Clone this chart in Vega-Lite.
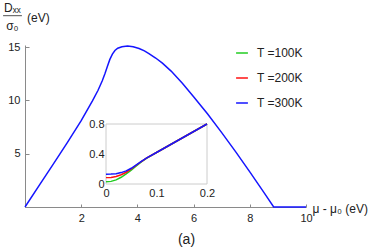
{
  "$schema": "https://vega.github.io/schema/vega-lite/v6.json",
  "width": 281,
  "height": 162,
  "autosize": "none",
  "padding": {"left": 25, "top": 45, "right": 68, "bottom": 45},
  "background": "white",
  "config": {"view": {"stroke": null}, "font": "Liberation Sans"},
  "title": {"text": "(a)", "orient": "bottom", "fontSize": 14, "fontWeight": "normal", "color": "#222", "dx": 21, "offset": 10},
  "datasets": {
    "main": [
      {"mu": 0, "D": 0, "T": "T =300K"},
      {"mu": 0.5, "D": 2.0, "T": "T =300K"},
      {"mu": 1.0, "D": 4.0, "T": "T =300K"},
      {"mu": 1.5, "D": 6.02, "T": "T =300K"},
      {"mu": 2.0, "D": 8.1, "T": "T =300K"},
      {"mu": 2.4, "D": 9.95, "T": "T =300K"},
      {"mu": 2.6, "D": 10.95, "T": "T =300K"},
      {"mu": 2.75, "D": 11.85, "T": "T =300K"},
      {"mu": 2.85, "D": 12.55, "T": "T =300K"},
      {"mu": 2.94, "D": 13.25, "T": "T =300K"},
      {"mu": 3.02, "D": 13.85, "T": "T =300K"},
      {"mu": 3.11, "D": 14.35, "T": "T =300K"},
      {"mu": 3.2, "D": 14.68, "T": "T =300K"},
      {"mu": 3.3, "D": 14.9, "T": "T =300K"},
      {"mu": 3.45, "D": 15.04, "T": "T =300K"},
      {"mu": 3.65, "D": 15.1, "T": "T =300K"},
      {"mu": 3.85, "D": 15.03, "T": "T =300K"},
      {"mu": 4.06, "D": 14.87, "T": "T =300K"},
      {"mu": 4.25, "D": 14.65, "T": "T =300K"},
      {"mu": 4.41, "D": 14.4, "T": "T =300K"},
      {"mu": 4.65, "D": 13.98, "T": "T =300K"},
      {"mu": 4.89, "D": 13.5, "T": "T =300K"},
      {"mu": 5.2, "D": 12.75, "T": "T =300K"},
      {"mu": 5.6, "D": 11.6, "T": "T =300K"},
      {"mu": 6.0, "D": 10.35, "T": "T =300K"},
      {"mu": 6.5, "D": 8.72, "T": "T =300K"},
      {"mu": 7.0, "D": 6.98, "T": "T =300K"},
      {"mu": 7.5, "D": 5.17, "T": "T =300K"},
      {"mu": 8.0, "D": 3.29, "T": "T =300K"},
      {"mu": 8.5, "D": 1.37, "T": "T =300K"},
      {"mu": 8.85, "D": 0, "T": "T =300K"},
      {"mu": 10, "D": 0, "T": "T =300K"}
    ],
    "inset": [
      {"mu": 0, "D": 0.03, "T": "T =100K"},
      {"mu": 0.01, "D": 0.035, "T": "T =100K"},
      {"mu": 0.02, "D": 0.055, "T": "T =100K"},
      {"mu": 0.03, "D": 0.09, "T": "T =100K"},
      {"mu": 0.04, "D": 0.135, "T": "T =100K"},
      {"mu": 0.05, "D": 0.185, "T": "T =100K"},
      {"mu": 0.06, "D": 0.24, "T": "T =100K"},
      {"mu": 0.07, "D": 0.295, "T": "T =100K"},
      {"mu": 0.08, "D": 0.342, "T": "T =100K"},
      {"mu": 0.1, "D": 0.42, "T": "T =100K"},
      {"mu": 0.15, "D": 0.61, "T": "T =100K"},
      {"mu": 0.2, "D": 0.8, "T": "T =100K"},
      {"mu": 0, "D": 0.085, "T": "T =200K"},
      {"mu": 0.01, "D": 0.088, "T": "T =200K"},
      {"mu": 0.02, "D": 0.1, "T": "T =200K"},
      {"mu": 0.03, "D": 0.123, "T": "T =200K"},
      {"mu": 0.04, "D": 0.157, "T": "T =200K"},
      {"mu": 0.05, "D": 0.2, "T": "T =200K"},
      {"mu": 0.06, "D": 0.25, "T": "T =200K"},
      {"mu": 0.07, "D": 0.3, "T": "T =200K"},
      {"mu": 0.08, "D": 0.344, "T": "T =200K"},
      {"mu": 0.1, "D": 0.42, "T": "T =200K"},
      {"mu": 0.15, "D": 0.61, "T": "T =200K"},
      {"mu": 0.2, "D": 0.8, "T": "T =200K"},
      {"mu": 0, "D": 0.13, "T": "T =300K"},
      {"mu": 0.01, "D": 0.132, "T": "T =300K"},
      {"mu": 0.02, "D": 0.138, "T": "T =300K"},
      {"mu": 0.03, "D": 0.152, "T": "T =300K"},
      {"mu": 0.04, "D": 0.175, "T": "T =300K"},
      {"mu": 0.05, "D": 0.21, "T": "T =300K"},
      {"mu": 0.06, "D": 0.255, "T": "T =300K"},
      {"mu": 0.07, "D": 0.302, "T": "T =300K"},
      {"mu": 0.08, "D": 0.344, "T": "T =300K"},
      {"mu": 0.1, "D": 0.42, "T": "T =300K"},
      {"mu": 0.15, "D": 0.61, "T": "T =300K"},
      {"mu": 0.2, "D": 0.8, "T": "T =300K"}
    ]
  },
  "layer": [
    {
      "layer": [
        {
          "data": {"name": "main"},
          "mark": {"type": "line", "strokeWidth": 1.5},
          "encoding": {
            "x": {
              "field": "mu", "type": "quantitative",
              "scale": {"domain": [0, 10], "nice": false, "zero": false},
              "axis": {
                "orient": "bottom",
                "values": [0, 0.5, 1, 1.5, 2, 2.5, 3, 3.5, 4, 4.5, 5, 5.5, 6, 6.5, 7, 7.5, 8, 8.5, 9, 9.5, 10],
                "labelExpr": "datum.value % 2 === 0 && datum.value > 0 ? datum.label : ''",
                "tickSize": -3,
                "labelPadding": 8,
                "labelFlush": false,
                "labelOverlap": false,
                "labelFontSize": 11,
                "labelColor": "#222",
                "grid": false,
                "domain": true,
                "domainWidth": 1,
                "domainColor": "#8a8a8a",
                "tickColor": "#8a8a8a",
                "title": "μ - μ₀ (eV)",
                "titleX": 287,
                "titleY": 1,
                "titleAlign": "left",
                "titleBaseline": "middle",
                "titleFontWeight": "normal",
                "titleFontSize": 12,
                "titleColor": "#222"
              }
            },
            "y": {
              "field": "D", "type": "quantitative",
              "scale": {"domain": [0, 15.2], "nice": false, "zero": false},
              "axis": {
                "orient": "left",
                "values": [5, 10, 15],
                "tickSize": -4,
                "labelPadding": 9,
                "labelAlign": "right",
                "labelBaseline": "middle",
                "labelFlush": false,
                "labelOverlap": false,
                "labelFontSize": 11,
                "labelColor": "#222",
                "grid": false,
                "domain": true,
                "domainWidth": 1,
                "domainColor": "#8a8a8a",
                "tickColor": "#8a8a8a",
                "title": ""
              }
            },
            "color": {
              "field": "T", "type": "nominal",
              "scale": {"domain": ["T =100K", "T =200K", "T =300K"], "range": ["#22cc22", "#ff1111", "#1515ff"]},
              "legend": {
                "orient": "none", "legendX": 210, "legendY": 1, "title": null,
                "symbolType": "stroke", "symbolSize": 140, "symbolStrokeWidth": 1.5,
                "labelFontSize": 12, "labelColor": "#222", "labelOffset": 8,
                "rowPadding": 12, "padding": 0
              }
            }
          }
        },
        {
          "data": {"values": [{"label": "Dₓₓ"}]},
          "mark": {"type": "text", "fontSize": 12, "align": "center", "baseline": "alphabetic", "color": "#222"},
          "encoding": {"x": {"datum": -0.45}, "y": {"datum": 18.3}, "text": {"field": "label"}}
        },
        {
          "data": {"values": [{"label": "σ₀"}]},
          "mark": {"type": "text", "fontSize": 12, "align": "center", "baseline": "alphabetic", "color": "#222"},
          "encoding": {"x": {"datum": -0.45}, "y": {"datum": 16.6}, "text": {"field": "label"}}
        },
        {
          "data": {"values": [{"label": "(eV)"}]},
          "mark": {"type": "text", "fontSize": 12, "align": "left", "baseline": "middle", "color": "#222"},
          "encoding": {"x": {"datum": 0.07}, "y": {"datum": 17.78}, "text": {"field": "label"}}
        },
        {
          "data": {"values": [{"label": "fraction"}]},
          "mark": {"type": "rule", "color": "#222", "strokeWidth": 0.8},
          "encoding": {"x": {"datum": -0.78}, "x2": {"datum": -0.11}, "y": {"datum": 17.95}}
        }
      ]
    },
    {
      "layer": [
        {
          "data": {"values": [{"label": "frame"}]},
          "mark": {"type": "rect", "fill": "transparent", "stroke": "#cccccc", "strokeWidth": 1},
          "encoding": {"x": {"datum": 0}, "x2": {"datum": 0.2}, "y": {"datum": 0}, "y2": {"datum": 0.8}}
        },
        {
          "data": {"name": "inset"},
          "mark": {"type": "line", "strokeWidth": 1.5},
          "encoding": {
            "x": {
              "field": "mu", "type": "quantitative",
              "scale": {"domain": [0, 0.2], "nice": false, "zero": false, "range": [81, 182]},
              "axis": {
                "orient": "bottom", "offset": -23, "values": [0, 0.1, 0.2], "format": "~g",
                "domain": false, "ticks": false, "grid": false,
                "labelPadding": 3, "labelFlush": false, "labelOverlap": false,
                "labelFontSize": 11, "labelColor": "#222", "title": null
              }
            },
            "y": {
              "field": "D", "type": "quantitative",
              "scale": {"domain": [0, 0.8], "nice": false, "zero": false, "range": [139, 79]},
              "axis": {
                "orient": "left", "offset": -81, "values": [0, 0.4, 0.8], "format": "~g",
                "domain": false, "ticks": false, "grid": false,
                "labelPadding": 2, "labelFlush": false, "labelOverlap": false,
                "labelFontSize": 11, "labelColor": "#222", "title": null
              }
            },
            "color": {"field": "T", "type": "nominal"}
          }
        }
      ]
    }
  ],
  "resolve": {"scale": {"x": "independent", "y": "independent"}}
}
